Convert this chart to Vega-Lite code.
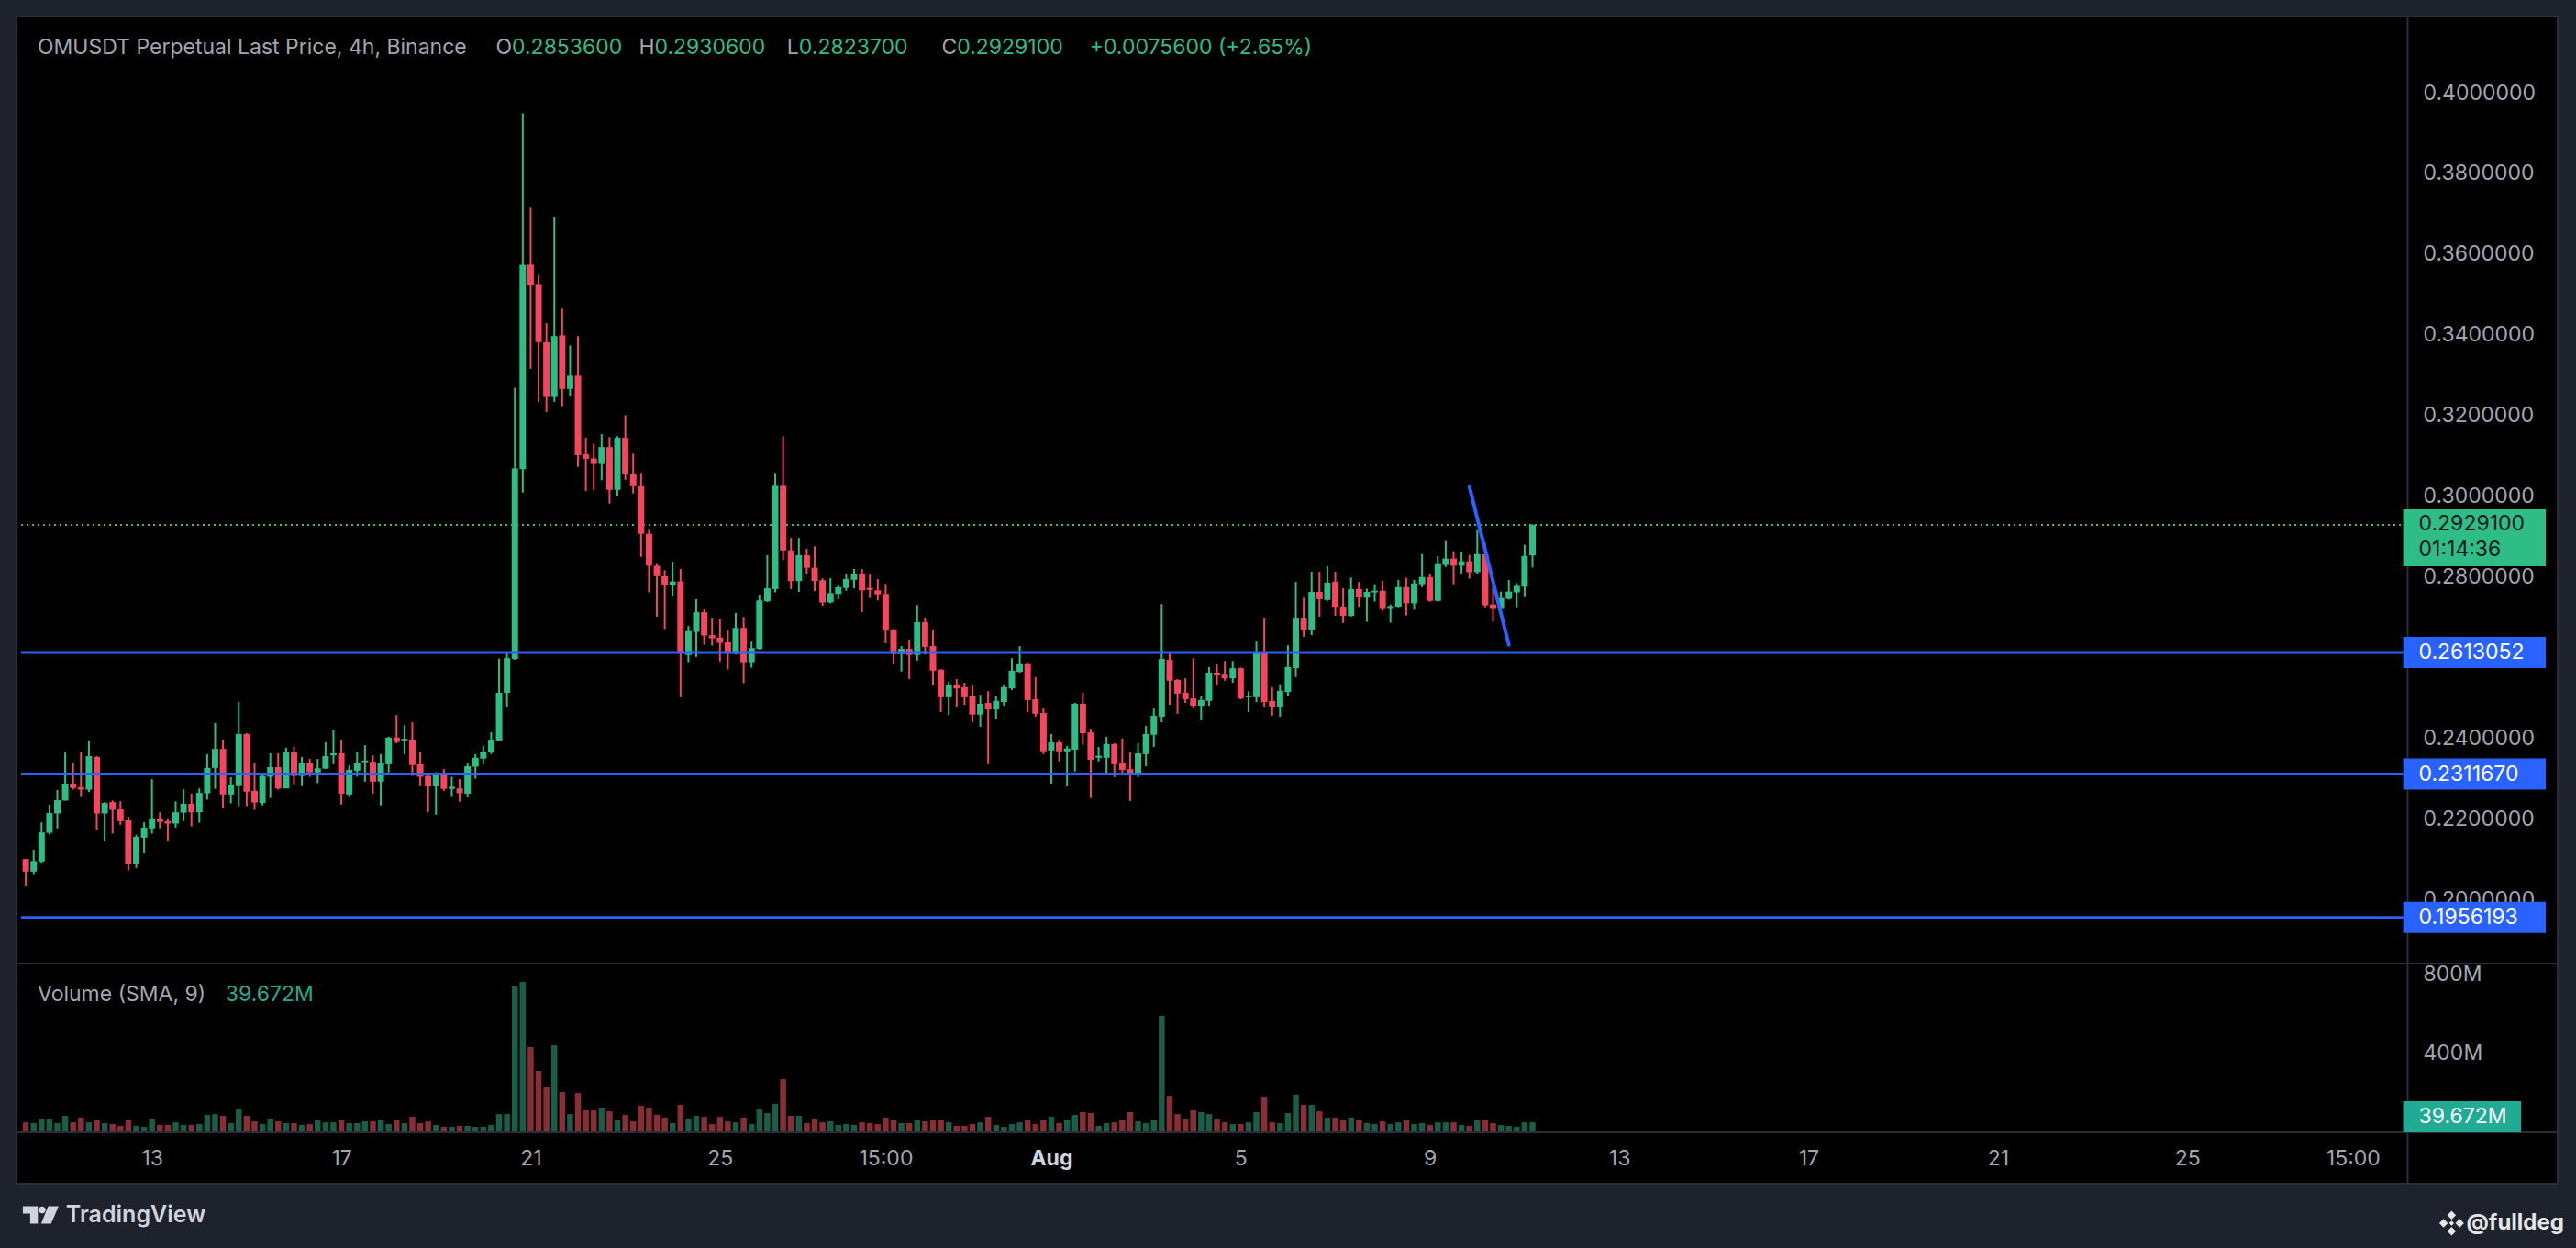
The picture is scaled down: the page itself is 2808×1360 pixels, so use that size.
{
  "$schema": "https://vega.github.io/schema/vega-lite/v6.json",
  "description": "OMUSDT perpetual 4h candles with volume, TradingView dark style",
  "width": 2770,
  "height": 1272,
  "autosize": {"type": "none"},
  "padding": {"left": 18, "top": 18, "right": 20, "bottom": 70},
  "background": "#1e222d",
  "config": {
    "view": {"fill": "#000000", "stroke": "#2a2e39", "strokeWidth": 2},
    "text": {"font": "Inter", "fontSize": 23, "baseline": "middle", "align": "left"},
    "axis": {"labelFont": "Inter", "labelFontSize": 23, "labelColor": "#a3a6af", "grid": false, "ticks": false, "domain": false}
  },
  "datasets": {
    "candles": [
      {"t":"2025-07-10T08:00Z","o":0.2101,"h":0.2101,"l":0.2035,"c":0.2070,"v":46},
      {"t":"2025-07-10T12:00Z","o":0.2070,"h":0.2124,"l":0.2064,"c":0.2096,"v":42},
      {"t":"2025-07-10T16:00Z","o":0.2095,"h":0.2192,"l":0.2092,"c":0.2167,"v":65},
      {"t":"2025-07-10T20:00Z","o":0.2166,"h":0.2236,"l":0.2162,"c":0.2215,"v":65},
      {"t":"2025-07-11T00:00Z","o":0.2214,"h":0.2272,"l":0.2177,"c":0.2247,"v":42},
      {"t":"2025-07-11T04:00Z","o":0.2246,"h":0.2365,"l":0.2246,"c":0.2288,"v":79},
      {"t":"2025-07-11T08:00Z","o":0.2288,"h":0.2340,"l":0.2273,"c":0.2277,"v":46},
      {"t":"2025-07-11T12:00Z","o":0.2279,"h":0.2365,"l":0.2257,"c":0.2273,"v":70},
      {"t":"2025-07-11T16:00Z","o":0.2273,"h":0.2395,"l":0.2267,"c":0.2356,"v":46},
      {"t":"2025-07-11T20:00Z","o":0.2354,"h":0.2356,"l":0.2174,"c":0.2214,"v":56},
      {"t":"2025-07-12T00:00Z","o":0.2214,"h":0.2242,"l":0.2145,"c":0.2240,"v":42},
      {"t":"2025-07-12T04:00Z","o":0.2242,"h":0.2246,"l":0.2164,"c":0.2223,"v":37},
      {"t":"2025-07-12T08:00Z","o":0.2224,"h":0.2244,"l":0.2186,"c":0.2195,"v":28},
      {"t":"2025-07-12T12:00Z","o":0.2197,"h":0.2206,"l":0.2073,"c":0.2089,"v":60},
      {"t":"2025-07-12T16:00Z","o":0.2089,"h":0.2161,"l":0.2079,"c":0.2156,"v":28},
      {"t":"2025-07-12T20:00Z","o":0.2154,"h":0.2192,"l":0.2115,"c":0.2179,"v":23},
      {"t":"2025-07-13T00:00Z","o":0.2177,"h":0.2299,"l":0.2164,"c":0.2202,"v":65},
      {"t":"2025-07-13T04:00Z","o":0.2202,"h":0.2217,"l":0.2177,"c":0.2193,"v":33},
      {"t":"2025-07-13T08:00Z","o":0.2195,"h":0.2202,"l":0.2145,"c":0.2189,"v":33},
      {"t":"2025-07-13T12:00Z","o":0.2189,"h":0.2244,"l":0.2179,"c":0.2217,"v":46},
      {"t":"2025-07-13T16:00Z","o":0.2216,"h":0.2274,"l":0.2195,"c":0.2238,"v":33},
      {"t":"2025-07-13T20:00Z","o":0.2238,"h":0.2263,"l":0.2182,"c":0.2217,"v":33},
      {"t":"2025-07-14T00:00Z","o":0.2217,"h":0.2276,"l":0.2191,"c":0.2265,"v":37},
      {"t":"2025-07-14T04:00Z","o":0.2264,"h":0.2361,"l":0.2248,"c":0.2327,"v":84},
      {"t":"2025-07-14T08:00Z","o":0.2327,"h":0.2438,"l":0.2275,"c":0.2374,"v":88},
      {"t":"2025-07-14T12:00Z","o":0.2374,"h":0.2397,"l":0.2227,"c":0.2261,"v":79},
      {"t":"2025-07-14T16:00Z","o":0.2261,"h":0.2304,"l":0.2239,"c":0.2286,"v":42},
      {"t":"2025-07-14T20:00Z","o":0.2284,"h":0.2490,"l":0.2232,"c":0.2411,"v":116},
      {"t":"2025-07-15T00:00Z","o":0.2411,"h":0.2413,"l":0.2232,"c":0.2268,"v":79},
      {"t":"2025-07-15T04:00Z","o":0.2270,"h":0.2338,"l":0.2223,"c":0.2241,"v":51},
      {"t":"2025-07-15T08:00Z","o":0.2240,"h":0.2309,"l":0.2234,"c":0.2307,"v":37},
      {"t":"2025-07-15T12:00Z","o":0.2305,"h":0.2363,"l":0.2252,"c":0.2329,"v":65},
      {"t":"2025-07-15T16:00Z","o":0.2329,"h":0.2363,"l":0.2273,"c":0.2276,"v":51},
      {"t":"2025-07-15T20:00Z","o":0.2276,"h":0.2377,"l":0.2276,"c":0.2365,"v":42},
      {"t":"2025-07-16T00:00Z","o":0.2365,"h":0.2379,"l":0.2286,"c":0.2307,"v":42},
      {"t":"2025-07-16T04:00Z","o":0.2307,"h":0.2354,"l":0.2284,"c":0.2338,"v":33},
      {"t":"2025-07-16T08:00Z","o":0.2338,"h":0.2349,"l":0.2305,"c":0.2316,"v":37},
      {"t":"2025-07-16T12:00Z","o":0.2316,"h":0.2349,"l":0.2289,"c":0.2326,"v":56},
      {"t":"2025-07-16T16:00Z","o":0.2325,"h":0.2390,"l":0.2325,"c":0.2356,"v":46},
      {"t":"2025-07-16T20:00Z","o":0.2358,"h":0.2420,"l":0.2336,"c":0.2363,"v":46},
      {"t":"2025-07-17T00:00Z","o":0.2363,"h":0.2397,"l":0.2236,"c":0.2263,"v":56},
      {"t":"2025-07-17T04:00Z","o":0.2261,"h":0.2333,"l":0.2257,"c":0.2322,"v":42},
      {"t":"2025-07-17T08:00Z","o":0.2320,"h":0.2367,"l":0.2305,"c":0.2340,"v":42},
      {"t":"2025-07-17T12:00Z","o":0.2341,"h":0.2383,"l":0.2293,"c":0.2345,"v":51},
      {"t":"2025-07-17T16:00Z","o":0.2342,"h":0.2358,"l":0.2263,"c":0.2293,"v":51},
      {"t":"2025-07-17T20:00Z","o":0.2293,"h":0.2361,"l":0.2234,"c":0.2338,"v":60},
      {"t":"2025-07-18T00:00Z","o":0.2336,"h":0.2404,"l":0.2316,"c":0.2402,"v":37},
      {"t":"2025-07-18T04:00Z","o":0.2402,"h":0.2458,"l":0.2388,"c":0.2391,"v":56},
      {"t":"2025-07-18T08:00Z","o":0.2395,"h":0.2433,"l":0.2361,"c":0.2399,"v":42},
      {"t":"2025-07-18T12:00Z","o":0.2397,"h":0.2440,"l":0.2307,"c":0.2334,"v":74},
      {"t":"2025-07-18T16:00Z","o":0.2336,"h":0.2367,"l":0.2284,"c":0.2305,"v":42},
      {"t":"2025-07-18T20:00Z","o":0.2307,"h":0.2311,"l":0.2217,"c":0.2282,"v":51},
      {"t":"2025-07-19T00:00Z","o":0.2282,"h":0.2316,"l":0.2211,"c":0.2311,"v":33},
      {"t":"2025-07-19T04:00Z","o":0.2311,"h":0.2324,"l":0.2270,"c":0.2275,"v":23},
      {"t":"2025-07-19T08:00Z","o":0.2275,"h":0.2305,"l":0.2257,"c":0.2280,"v":23},
      {"t":"2025-07-19T12:00Z","o":0.2276,"h":0.2299,"l":0.2243,"c":0.2264,"v":28},
      {"t":"2025-07-19T16:00Z","o":0.2263,"h":0.2338,"l":0.2254,"c":0.2331,"v":28},
      {"t":"2025-07-19T20:00Z","o":0.2330,"h":0.2361,"l":0.2300,"c":0.2352,"v":23},
      {"t":"2025-07-20T00:00Z","o":0.2350,"h":0.2381,"l":0.2336,"c":0.2367,"v":23},
      {"t":"2025-07-20T04:00Z","o":0.2366,"h":0.2415,"l":0.2361,"c":0.2397,"v":33},
      {"t":"2025-07-20T08:00Z","o":0.2395,"h":0.2598,"l":0.2393,"c":0.2513,"v":88},
      {"t":"2025-07-20T12:00Z","o":0.2513,"h":0.2613,"l":0.2479,"c":0.2599,"v":88},
      {"t":"2025-07-20T16:00Z","o":0.2597,"h":0.3269,"l":0.2595,"c":0.3069,"v":735},
      {"t":"2025-07-20T20:00Z","o":0.3067,"h":0.3949,"l":0.3009,"c":0.3574,"v":758},
      {"t":"2025-07-21T00:00Z","o":0.3574,"h":0.3715,"l":0.3316,"c":0.3522,"v":428},
      {"t":"2025-07-21T04:00Z","o":0.3524,"h":0.3549,"l":0.3234,"c":0.3382,"v":307},
      {"t":"2025-07-21T08:00Z","o":0.3382,"h":0.3429,"l":0.3209,"c":0.3246,"v":223},
      {"t":"2025-07-21T12:00Z","o":0.3246,"h":0.3692,"l":0.3234,"c":0.3397,"v":437},
      {"t":"2025-07-21T16:00Z","o":0.3399,"h":0.3465,"l":0.3223,"c":0.3266,"v":200},
      {"t":"2025-07-21T20:00Z","o":0.3266,"h":0.3374,"l":0.3247,"c":0.3299,"v":88},
      {"t":"2025-07-22T00:00Z","o":0.3299,"h":0.3397,"l":0.3073,"c":0.3102,"v":195},
      {"t":"2025-07-22T04:00Z","o":0.3104,"h":0.3145,"l":0.3013,"c":0.3093,"v":107},
      {"t":"2025-07-22T08:00Z","o":0.3094,"h":0.3131,"l":0.3015,"c":0.3080,"v":107},
      {"t":"2025-07-22T12:00Z","o":0.3080,"h":0.3154,"l":0.3040,"c":0.3122,"v":121},
      {"t":"2025-07-22T16:00Z","o":0.3122,"h":0.3147,"l":0.2982,"c":0.3016,"v":102},
      {"t":"2025-07-22T20:00Z","o":0.3016,"h":0.3149,"l":0.3000,"c":0.3145,"v":56},
      {"t":"2025-07-23T00:00Z","o":0.3145,"h":0.3201,"l":0.3041,"c":0.3056,"v":84},
      {"t":"2025-07-23T04:00Z","o":0.3056,"h":0.3106,"l":0.3007,"c":0.3025,"v":51},
      {"t":"2025-07-23T08:00Z","o":0.3025,"h":0.3058,"l":0.2850,"c":0.2907,"v":130},
      {"t":"2025-07-23T12:00Z","o":0.2907,"h":0.2917,"l":0.2762,"c":0.2828,"v":121},
      {"t":"2025-07-23T16:00Z","o":0.2828,"h":0.2832,"l":0.2702,"c":0.2802,"v":84},
      {"t":"2025-07-23T20:00Z","o":0.2802,"h":0.2817,"l":0.2671,"c":0.2780,"v":70},
      {"t":"2025-07-24T00:00Z","o":0.2780,"h":0.2838,"l":0.2752,"c":0.2789,"v":42},
      {"t":"2025-07-24T04:00Z","o":0.2789,"h":0.2820,"l":0.2502,"c":0.2610,"v":135},
      {"t":"2025-07-24T08:00Z","o":0.2607,"h":0.2679,"l":0.2589,"c":0.2666,"v":65},
      {"t":"2025-07-24T12:00Z","o":0.2664,"h":0.2745,"l":0.2602,"c":0.2713,"v":79},
      {"t":"2025-07-24T16:00Z","o":0.2713,"h":0.2720,"l":0.2632,"c":0.2655,"v":74},
      {"t":"2025-07-24T20:00Z","o":0.2656,"h":0.2697,"l":0.2630,"c":0.2648,"v":37},
      {"t":"2025-07-25T00:00Z","o":0.2650,"h":0.2695,"l":0.2591,"c":0.2637,"v":74},
      {"t":"2025-07-25T04:00Z","o":0.2638,"h":0.2667,"l":0.2571,"c":0.2610,"v":51},
      {"t":"2025-07-25T08:00Z","o":0.2610,"h":0.2711,"l":0.2608,"c":0.2674,"v":46},
      {"t":"2025-07-25T12:00Z","o":0.2674,"h":0.2701,"l":0.2537,"c":0.2589,"v":70},
      {"t":"2025-07-25T16:00Z","o":0.2589,"h":0.2640,"l":0.2575,"c":0.2624,"v":37},
      {"t":"2025-07-25T20:00Z","o":0.2622,"h":0.2756,"l":0.2620,"c":0.2742,"v":112},
      {"t":"2025-07-26T00:00Z","o":0.2740,"h":0.2854,"l":0.2738,"c":0.2772,"v":93},
      {"t":"2025-07-26T04:00Z","o":0.2770,"h":0.3058,"l":0.2762,"c":0.3026,"v":140},
      {"t":"2025-07-26T08:00Z","o":0.3026,"h":0.3149,"l":0.2842,"c":0.2866,"v":265},
      {"t":"2025-07-26T12:00Z","o":0.2866,"h":0.2897,"l":0.2770,"c":0.2790,"v":79},
      {"t":"2025-07-26T16:00Z","o":0.2790,"h":0.2897,"l":0.2763,"c":0.2854,"v":79},
      {"t":"2025-07-26T20:00Z","o":0.2854,"h":0.2870,"l":0.2806,"c":0.2823,"v":42},
      {"t":"2025-07-27T00:00Z","o":0.2823,"h":0.2876,"l":0.2765,"c":0.2790,"v":65},
      {"t":"2025-07-27T04:00Z","o":0.2792,"h":0.2797,"l":0.2729,"c":0.2737,"v":46},
      {"t":"2025-07-27T08:00Z","o":0.2737,"h":0.2797,"l":0.2735,"c":0.2760,"v":51},
      {"t":"2025-07-27T12:00Z","o":0.2758,"h":0.2779,"l":0.2745,"c":0.2775,"v":33},
      {"t":"2025-07-27T16:00Z","o":0.2773,"h":0.2808,"l":0.2766,"c":0.2795,"v":37},
      {"t":"2025-07-27T20:00Z","o":0.2793,"h":0.2820,"l":0.2772,"c":0.2808,"v":33},
      {"t":"2025-07-28T00:00Z","o":0.2808,"h":0.2820,"l":0.2713,"c":0.2767,"v":46},
      {"t":"2025-07-28T04:00Z","o":0.2773,"h":0.2806,"l":0.2748,"c":0.2768,"v":42},
      {"t":"2025-07-28T08:00Z","o":0.2767,"h":0.2795,"l":0.2742,"c":0.2757,"v":37},
      {"t":"2025-07-28T12:00Z","o":0.2758,"h":0.2783,"l":0.2636,"c":0.2667,"v":70},
      {"t":"2025-07-28T16:00Z","o":0.2669,"h":0.2672,"l":0.2583,"c":0.2609,"v":56},
      {"t":"2025-07-28T20:00Z","o":0.2609,"h":0.2629,"l":0.2566,"c":0.2622,"v":42},
      {"t":"2025-07-29T00:00Z","o":0.2622,"h":0.2645,"l":0.2547,"c":0.2607,"v":42},
      {"t":"2025-07-29T04:00Z","o":0.2607,"h":0.2731,"l":0.2593,"c":0.2688,"v":56},
      {"t":"2025-07-29T08:00Z","o":0.2688,"h":0.2699,"l":0.2608,"c":0.2627,"v":51},
      {"t":"2025-07-29T12:00Z","o":0.2629,"h":0.2668,"l":0.2531,"c":0.2568,"v":56},
      {"t":"2025-07-29T16:00Z","o":0.2570,"h":0.2572,"l":0.2465,"c":0.2502,"v":60},
      {"t":"2025-07-29T20:00Z","o":0.2502,"h":0.2540,"l":0.2458,"c":0.2533,"v":46},
      {"t":"2025-07-30T00:00Z","o":0.2533,"h":0.2547,"l":0.2479,"c":0.2524,"v":28},
      {"t":"2025-07-30T04:00Z","o":0.2527,"h":0.2538,"l":0.2483,"c":0.2502,"v":28},
      {"t":"2025-07-30T08:00Z","o":0.2504,"h":0.2531,"l":0.2440,"c":0.2459,"v":37},
      {"t":"2025-07-30T12:00Z","o":0.2459,"h":0.2508,"l":0.2429,"c":0.2486,"v":46},
      {"t":"2025-07-30T16:00Z","o":0.2488,"h":0.2517,"l":0.2336,"c":0.2472,"v":74},
      {"t":"2025-07-30T20:00Z","o":0.2472,"h":0.2504,"l":0.2447,"c":0.2493,"v":33},
      {"t":"2025-07-31T00:00Z","o":0.2490,"h":0.2534,"l":0.2481,"c":0.2527,"v":23},
      {"t":"2025-07-31T04:00Z","o":0.2524,"h":0.2599,"l":0.2520,"c":0.2568,"v":37},
      {"t":"2025-07-31T08:00Z","o":0.2565,"h":0.2629,"l":0.2563,"c":0.2584,"v":46},
      {"t":"2025-07-31T12:00Z","o":0.2584,"h":0.2588,"l":0.2465,"c":0.2495,"v":56},
      {"t":"2025-07-31T16:00Z","o":0.2497,"h":0.2552,"l":0.2454,"c":0.2461,"v":37},
      {"t":"2025-07-31T20:00Z","o":0.2463,"h":0.2474,"l":0.2361,"c":0.2368,"v":56},
      {"t":"2025-08-01T00:00Z","o":0.2370,"h":0.2411,"l":0.2288,"c":0.2390,"v":74},
      {"t":"2025-08-01T04:00Z","o":0.2390,"h":0.2397,"l":0.2343,"c":0.2368,"v":42},
      {"t":"2025-08-01T08:00Z","o":0.2368,"h":0.2381,"l":0.2281,"c":0.2375,"v":60},
      {"t":"2025-08-01T12:00Z","o":0.2372,"h":0.2488,"l":0.2318,"c":0.2486,"v":84},
      {"t":"2025-08-01T16:00Z","o":0.2486,"h":0.2513,"l":0.2384,"c":0.2413,"v":98},
      {"t":"2025-08-01T20:00Z","o":0.2415,"h":0.2424,"l":0.2252,"c":0.2347,"v":93},
      {"t":"2025-08-02T00:00Z","o":0.2352,"h":0.2379,"l":0.2343,"c":0.2357,"v":28},
      {"t":"2025-08-02T04:00Z","o":0.2352,"h":0.2404,"l":0.2309,"c":0.2386,"v":42},
      {"t":"2025-08-02T08:00Z","o":0.2386,"h":0.2388,"l":0.2304,"c":0.2336,"v":46},
      {"t":"2025-08-02T12:00Z","o":0.2338,"h":0.2400,"l":0.2311,"c":0.2322,"v":56},
      {"t":"2025-08-02T16:00Z","o":0.2324,"h":0.2365,"l":0.2245,"c":0.2311,"v":98},
      {"t":"2025-08-02T20:00Z","o":0.2311,"h":0.2388,"l":0.2304,"c":0.2363,"v":51},
      {"t":"2025-08-03T00:00Z","o":0.2361,"h":0.2431,"l":0.2331,"c":0.2411,"v":42},
      {"t":"2025-08-03T04:00Z","o":0.2409,"h":0.2474,"l":0.2379,"c":0.2456,"v":60},
      {"t":"2025-08-03T08:00Z","o":0.2454,"h":0.2733,"l":0.2440,"c":0.2597,"v":586},
      {"t":"2025-08-03T12:00Z","o":0.2595,"h":0.2613,"l":0.2483,"c":0.2543,"v":181},
      {"t":"2025-08-03T16:00Z","o":0.2545,"h":0.2547,"l":0.2461,"c":0.2511,"v":88},
      {"t":"2025-08-03T20:00Z","o":0.2513,"h":0.2549,"l":0.2488,"c":0.2497,"v":65},
      {"t":"2025-08-04T00:00Z","o":0.2499,"h":0.2599,"l":0.2477,"c":0.2481,"v":107},
      {"t":"2025-08-04T04:00Z","o":0.2481,"h":0.2506,"l":0.2445,"c":0.2495,"v":98},
      {"t":"2025-08-04T08:00Z","o":0.2493,"h":0.2577,"l":0.2481,"c":0.2563,"v":88},
      {"t":"2025-08-04T12:00Z","o":0.2563,"h":0.2583,"l":0.2531,"c":0.2556,"v":65},
      {"t":"2025-08-04T16:00Z","o":0.2558,"h":0.2592,"l":0.2543,"c":0.2549,"v":46},
      {"t":"2025-08-04T20:00Z","o":0.2549,"h":0.2592,"l":0.2538,"c":0.2574,"v":37},
      {"t":"2025-08-05T00:00Z","o":0.2574,"h":0.2576,"l":0.2497,"c":0.2499,"v":37},
      {"t":"2025-08-05T04:00Z","o":0.2502,"h":0.2517,"l":0.2465,"c":0.2506,"v":46},
      {"t":"2025-08-05T08:00Z","o":0.2502,"h":0.2640,"l":0.2490,"c":0.2613,"v":98},
      {"t":"2025-08-05T12:00Z","o":0.2615,"h":0.2697,"l":0.2479,"c":0.2490,"v":177},
      {"t":"2025-08-05T16:00Z","o":0.2493,"h":0.2527,"l":0.2456,"c":0.2479,"v":46},
      {"t":"2025-08-05T20:00Z","o":0.2479,"h":0.2534,"l":0.2454,"c":0.2518,"v":42},
      {"t":"2025-08-06T00:00Z","o":0.2515,"h":0.2631,"l":0.2504,"c":0.2577,"v":93},
      {"t":"2025-08-06T04:00Z","o":0.2574,"h":0.2788,"l":0.2552,"c":0.2697,"v":186},
      {"t":"2025-08-06T08:00Z","o":0.2697,"h":0.2749,"l":0.2652,"c":0.2670,"v":135},
      {"t":"2025-08-06T12:00Z","o":0.2670,"h":0.2813,"l":0.2656,"c":0.2763,"v":135},
      {"t":"2025-08-06T16:00Z","o":0.2763,"h":0.2813,"l":0.2702,"c":0.2745,"v":102},
      {"t":"2025-08-06T20:00Z","o":0.2743,"h":0.2827,"l":0.2741,"c":0.2786,"v":70},
      {"t":"2025-08-07T00:00Z","o":0.2788,"h":0.2813,"l":0.2704,"c":0.2724,"v":70},
      {"t":"2025-08-07T04:00Z","o":0.2727,"h":0.2772,"l":0.2686,"c":0.2704,"v":60},
      {"t":"2025-08-07T08:00Z","o":0.2704,"h":0.2799,"l":0.2702,"c":0.2770,"v":70},
      {"t":"2025-08-07T12:00Z","o":0.2770,"h":0.2788,"l":0.2724,"c":0.2749,"v":56},
      {"t":"2025-08-07T16:00Z","o":0.2749,"h":0.2771,"l":0.2689,"c":0.2763,"v":42},
      {"t":"2025-08-07T20:00Z","o":0.2762,"h":0.2782,"l":0.2739,"c":0.2766,"v":37},
      {"t":"2025-08-08T00:00Z","o":0.2766,"h":0.2791,"l":0.2716,"c":0.2721,"v":51},
      {"t":"2025-08-08T04:00Z","o":0.2721,"h":0.2732,"l":0.2687,"c":0.2728,"v":37},
      {"t":"2025-08-08T08:00Z","o":0.2726,"h":0.2793,"l":0.2723,"c":0.2775,"v":46},
      {"t":"2025-08-08T12:00Z","o":0.2775,"h":0.2798,"l":0.2705,"c":0.2735,"v":56},
      {"t":"2025-08-08T16:00Z","o":0.2735,"h":0.2793,"l":0.2719,"c":0.2784,"v":37},
      {"t":"2025-08-08T20:00Z","o":0.2782,"h":0.2857,"l":0.2775,"c":0.2800,"v":42},
      {"t":"2025-08-09T00:00Z","o":0.2800,"h":0.2807,"l":0.2739,"c":0.2741,"v":33},
      {"t":"2025-08-09T04:00Z","o":0.2741,"h":0.2852,"l":0.2739,"c":0.2832,"v":46},
      {"t":"2025-08-09T08:00Z","o":0.2830,"h":0.2889,"l":0.2825,"c":0.2846,"v":46},
      {"t":"2025-08-09T12:00Z","o":0.2846,"h":0.2864,"l":0.2782,"c":0.2828,"v":46},
      {"t":"2025-08-09T16:00Z","o":0.2828,"h":0.2861,"l":0.2809,"c":0.2839,"v":33},
      {"t":"2025-08-09T20:00Z","o":0.2839,"h":0.2855,"l":0.2796,"c":0.2812,"v":28},
      {"t":"2025-08-10T00:00Z","o":0.2812,"h":0.2916,"l":0.2807,"c":0.2857,"v":56},
      {"t":"2025-08-10T04:00Z","o":0.2857,"h":0.2884,"l":0.2723,"c":0.2730,"v":60},
      {"t":"2025-08-10T08:00Z","o":0.2732,"h":0.2778,"l":0.2689,"c":0.2721,"v":42},
      {"t":"2025-08-10T12:00Z","o":0.2721,"h":0.2764,"l":0.2703,"c":0.2748,"v":33},
      {"t":"2025-08-10T16:00Z","o":0.2746,"h":0.2793,"l":0.2744,"c":0.2764,"v":28},
      {"t":"2025-08-10T20:00Z","o":0.2762,"h":0.2785,"l":0.2723,"c":0.2778,"v":23},
      {"t":"2025-08-11T00:00Z","o":0.2776,"h":0.2880,"l":0.2750,"c":0.2852,"v":46},
      {"t":"2025-08-11T04:00Z","o":0.28536,"h":0.29306,"l":0.28237,"c":0.29291,"v":46}
    ]
  },
  "layer": [
    {
      "layer": [
        {
          "data": {"values": [{}]},
          "mark": {"type": "rule", "color": "#2a2e39", "strokeWidth": 2},
          "encoding": {"y": {"datum": 0.18422, "type": "quantitative"}}
        },
        {
          "data": {"values": [{}]},
          "mark": {"type": "rule", "color": "#2a2e39", "strokeWidth": 2},
          "encoding": {"y": {"datum": 0.14239, "type": "quantitative"}}
        },
        {
          "data": {"values": [{}]},
          "mark": {"type": "rule", "color": "#2ebd85", "strokeWidth": 2, "strokeDash": [2, 4]},
          "encoding": {
            "x": {"datum": {"year": 2025, "month": 7, "date": 10, "hours": 5, "minutes": 37, "seconds": 20, "utc": true}, "type": "temporal"},
            "x2": {"datum": {"year": 2025, "month": 8, "date": 29, "hours": 13, "minutes": 30, "utc": true}},
            "y": {"datum": 0.29291, "type": "quantitative"}
          }
        },
        {
          "data": {"name": "candles"},
          "mark": {"type": "rule", "strokeWidth": 2},
          "encoding": {
            "x": {
              "field": "t", "type": "temporal",
              "scale": {"type": "utc", "nice": false, "domain": [
                {"year": 2025, "month": 7, "date": 10, "hours": 5, "minutes": 37, "seconds": 20, "utc": true},
                {"year": 2025, "month": 9, "date": 1, "hours": 17, "minutes": 30, "seconds": 44, "utc": true}
              ]},
              "axis": {
                "orient": "bottom", "offset": -56, "title": null, "domain": false, "labelPadding": 17,
                "labelOverlap": false, "labelFlush": false,
                "values": [
                  {"year": 2025, "month": 7, "date": 13, "utc": true},
                  {"year": 2025, "month": 7, "date": 17, "utc": true},
                  {"year": 2025, "month": 7, "date": 21, "utc": true},
                  {"year": 2025, "month": 7, "date": 25, "utc": true},
                  {"year": 2025, "month": 7, "date": 28, "hours": 12, "utc": true},
                  {"year": 2025, "month": 8, "date": 1, "utc": true},
                  {"year": 2025, "month": 8, "date": 5, "utc": true},
                  {"year": 2025, "month": 8, "date": 9, "utc": true},
                  {"year": 2025, "month": 8, "date": 13, "utc": true},
                  {"year": 2025, "month": 8, "date": 17, "utc": true},
                  {"year": 2025, "month": 8, "date": 21, "utc": true},
                  {"year": 2025, "month": 8, "date": 25, "utc": true},
                  {"year": 2025, "month": 8, "date": 28, "hours": 12, "utc": true}
                ],
                "labelExpr": "utchours(datum.value) == 12 ? '15:00' : (utcdate(datum.value) == 1 ? 'Aug' : '' + utcdate(datum.value))",
                "labelColor": {"condition": {"test": "utcdate(datum.value) == 1 && utchours(datum.value) == 0", "value": "#d1d4dc"}, "value": "#a3a6af"},
                "labelFontWeight": {"condition": {"test": "utcdate(datum.value) == 1 && utchours(datum.value) == 0", "value": "bold"}, "value": "normal"}
              }
            },
            "y": {
              "field": "l", "type": "quantitative",
              "scale": {"domain": [0.12965, 0.41888], "nice": false, "zero": false},
              "axis": {
                "orient": "right", "offset": -164, "title": null, "format": ".7f", "labelPadding": 17,
                "labelOverlap": false, "domain": true, "domainColor": "#2a2e39", "domainWidth": 2,
                "values": [0.2, 0.22, 0.24, 0.28, 0.3, 0.32, 0.34, 0.36, 0.38, 0.4]
              }
            },
            "y2": {"field": "h"},
            "color": {"condition": {"test": "datum.c >= datum.o", "value": "#2ebd85"}, "value": "#f6465d"}
          }
        },
        {
          "data": {"name": "candles"},
          "mark": {"type": "bar", "width": 7},
          "encoding": {
            "x": {"field": "t", "type": "temporal"},
            "y": {"field": "o", "type": "quantitative"},
            "y2": {"field": "c"},
            "color": {"condition": {"test": "datum.c >= datum.o", "value": "#2ebd85"}, "value": "#f6465d"}
          }
        },
        {
          "data": {"values": [{"p": 0.2613052}, {"p": 0.231167}, {"p": 0.1956193}]},
          "layer": [
            {
              "mark": {"type": "rule", "color": "#2962ff", "strokeWidth": 3},
              "encoding": {
                "x": {"datum": {"year": 2025, "month": 7, "date": 10, "hours": 5, "minutes": 37, "seconds": 20, "utc": true}, "type": "temporal"},
                "x2": {"datum": {"year": 2025, "month": 8, "date": 29, "hours": 13, "minutes": 30, "utc": true}},
                "y": {"field": "p", "type": "quantitative"}
              }
            },
            {
              "mark": {"type": "rule", "color": "#2962ff", "strokeWidth": 34},
              "encoding": {
                "x": {"datum": {"year": 2025, "month": 8, "date": 29, "hours": 13, "minutes": 30, "utc": true}, "type": "temporal"},
                "x2": {"datum": {"year": 2025, "month": 9, "date": 1, "hours": 13, "minutes": 48, "utc": true}},
                "y": {"field": "p", "type": "quantitative"}
              }
            },
            {
              "mark": {"type": "text", "color": "#ffffff"},
              "encoding": {
                "x": {"datum": {"year": 2025, "month": 8, "date": 29, "hours": 21, "minutes": 23, "utc": true}, "type": "temporal"},
                "y": {"field": "p", "type": "quantitative"},
                "text": {"field": "p", "type": "quantitative", "format": ".7f"}
              }
            }
          ]
        },
        {
          "data": {"values": [{}]},
          "mark": {"type": "rule", "color": "#2962ff", "strokeWidth": 4, "strokeCap": "round"},
          "encoding": {
            "x": {"datum": {"year": 2025, "month": 8, "date": 9, "hours": 20, "utc": true}, "type": "temporal"},
            "x2": {"datum": {"year": 2025, "month": 8, "date": 10, "hours": 16, "utc": true}},
            "y": {"datum": 0.3024, "type": "quantitative"},
            "y2": {"datum": 0.2632}
          }
        },
        {
          "data": {"values": [{}]},
          "mark": {"type": "rule", "color": "#2ebd85", "strokeWidth": 62},
          "encoding": {
            "x": {"datum": {"year": 2025, "month": 8, "date": 29, "hours": 13, "minutes": 30, "utc": true}, "type": "temporal"},
            "x2": {"datum": {"year": 2025, "month": 9, "date": 1, "hours": 13, "minutes": 48, "utc": true}},
            "y": {"datum": 0.28972, "type": "quantitative"}
          }
        },
        {
          "data": {"values": [{}]},
          "mark": {"type": "text", "color": "#131722"},
          "encoding": {
            "x": {"datum": {"year": 2025, "month": 8, "date": 29, "hours": 21, "minutes": 23, "utc": true}, "type": "temporal"},
            "y": {"datum": 0.29314, "type": "quantitative"},
            "text": {"value": "0.2929100"}
          }
        },
        {
          "data": {"values": [{}]},
          "mark": {"type": "text", "color": "#131722"},
          "encoding": {
            "x": {"datum": {"year": 2025, "month": 8, "date": 29, "hours": 21, "minutes": 23, "utc": true}, "type": "temporal"},
            "y": {"datum": 0.28677, "type": "quantitative"},
            "text": {"value": "01:14:36"}
          }
        },
        {
          "data": {"values": [{}]},
          "mark": {"type": "text", "color": "#a3a6af"},
          "encoding": {
            "x": {"datum": {"year": 2025, "month": 7, "date": 10, "hours": 13, "minutes": 58, "utc": true}, "type": "temporal"},
            "y": {"datum": 0.41115, "type": "quantitative"},
            "text": {"value": "OMUSDT Perpetual Last Price, 4h, Binance"}
          }
        },
        {
          "data": {"values": [{}]},
          "mark": {"type": "text", "color": "#a3a6af", "align": "right"},
          "encoding": {
            "x": {"datum": {"year": 2025, "month": 7, "date": 20, "hours": 14, "minutes": 31, "utc": true}, "type": "temporal"},
            "y": {"datum": 0.41115, "type": "quantitative"},
            "text": {"value": "O"}
          }
        },
        {
          "data": {"values": [{}]},
          "mark": {"type": "text", "color": "#2ebd85"},
          "encoding": {
            "x": {"datum": {"year": 2025, "month": 7, "date": 20, "hours": 14, "minutes": 31, "utc": true}, "type": "temporal"},
            "y": {"datum": 0.41115, "type": "quantitative"},
            "text": {"value": "0.2853600"}
          }
        },
        {
          "data": {"values": [{}]},
          "mark": {"type": "text", "color": "#a3a6af", "align": "right"},
          "encoding": {
            "x": {"datum": {"year": 2025, "month": 7, "date": 23, "hours": 14, "minutes": 49, "utc": true}, "type": "temporal"},
            "y": {"datum": 0.41115, "type": "quantitative"},
            "text": {"value": "H"}
          }
        },
        {
          "data": {"values": [{}]},
          "mark": {"type": "text", "color": "#2ebd85"},
          "encoding": {
            "x": {"datum": {"year": 2025, "month": 7, "date": 23, "hours": 14, "minutes": 49, "utc": true}, "type": "temporal"},
            "y": {"datum": 0.41115, "type": "quantitative"},
            "text": {"value": "0.2930600"}
          }
        },
        {
          "data": {"values": [{}]},
          "mark": {"type": "text", "color": "#a3a6af", "align": "right"},
          "encoding": {
            "x": {"datum": {"year": 2025, "month": 7, "date": 26, "hours": 16, "minutes": 1, "utc": true}, "type": "temporal"},
            "y": {"datum": 0.41115, "type": "quantitative"},
            "text": {"value": "L"}
          }
        },
        {
          "data": {"values": [{}]},
          "mark": {"type": "text", "color": "#2ebd85"},
          "encoding": {
            "x": {"datum": {"year": 2025, "month": 7, "date": 26, "hours": 16, "minutes": 1, "utc": true}, "type": "temporal"},
            "y": {"datum": 0.41115, "type": "quantitative"},
            "text": {"value": "0.2823700"}
          }
        },
        {
          "data": {"values": [{}]},
          "mark": {"type": "text", "color": "#a3a6af", "align": "right"},
          "encoding": {
            "x": {"datum": {"year": 2025, "month": 7, "date": 30, "hours": 0, "minutes": 13, "utc": true}, "type": "temporal"},
            "y": {"datum": 0.41115, "type": "quantitative"},
            "text": {"value": "C"}
          }
        },
        {
          "data": {"values": [{}]},
          "mark": {"type": "text", "color": "#2ebd85"},
          "encoding": {
            "x": {"datum": {"year": 2025, "month": 7, "date": 30, "hours": 0, "minutes": 13, "utc": true}, "type": "temporal"},
            "y": {"datum": 0.41115, "type": "quantitative"},
            "text": {"value": "0.2929100"}
          }
        },
        {
          "data": {"values": [{}]},
          "mark": {"type": "text", "color": "#2ebd85"},
          "encoding": {
            "x": {"datum": {"year": 2025, "month": 8, "date": 1, "hours": 19, "minutes": 25, "utc": true}, "type": "temporal"},
            "y": {"datum": 0.41115, "type": "quantitative"},
            "text": {"value": "+0.0075600 (+2.65%)"}
          }
        },
        {
          "data": {"values": [{}]},
          "mark": {"type": "point", "filled": true, "opacity": 1, "color": "#d1d4dc", "size": 1521,
            "shape": "M-1,-0.49H-0.16V0.49H-0.59V-0.08H-1Z M-0.12,-0.28A0.2,0.2 0 1,0 0.28,-0.28A0.2,0.2 0 1,0 -0.12,-0.28Z M0.42,-0.49H1L0.58,0.49H0.02Z"},
          "encoding": {
            "x": {"datum": {"year": 2025, "month": 7, "date": 10, "hours": 15, "minutes": 35, "utc": true}, "type": "temporal"},
            "y": {"datum": 0.12192, "type": "quantitative"}
          }
        },
        {
          "data": {"values": [{}]},
          "mark": {"type": "text", "color": "#d1d4dc", "fontSize": 25, "fontWeight": 600},
          "encoding": {
            "x": {"datum": {"year": 2025, "month": 7, "date": 11, "hours": 4, "minutes": 20, "utc": true}, "type": "temporal"},
            "y": {"datum": 0.12192, "type": "quantitative"},
            "text": {"value": "TradingView"}
          }
        },
        {
          "data": {"values": [{}]},
          "mark": {"type": "point", "filled": true, "opacity": 1, "color": "#e6e6e6", "size": 729,
            "shape": "M0,-1L0.35,-0.65L0,-0.3L-0.35,-0.65Z M0,1L0.35,0.65L0,0.3L-0.35,0.65Z M-1,0L-0.65,-0.35L-0.3,0L-0.65,0.35Z M1,0L0.65,-0.35L0.3,0L0.65,0.35Z M0,-0.2L0.2,0L0,0.2L-0.2,0Z"},
          "encoding": {
            "x": {"datum": {"year": 2025, "month": 8, "date": 30, "hours": 14, "minutes": 4, "utc": true}, "type": "temporal"},
            "y": {"datum": 0.11988, "type": "quantitative"}
          }
        },
        {
          "data": {"values": [{}]},
          "mark": {"type": "text", "color": "#e6e6e6", "fontSize": 24, "fontWeight": "bold", "align": "right"},
          "encoding": {
            "x": {"datum": {"year": 2025, "month": 9, "date": 1, "hours": 23, "minutes": 4, "utc": true}, "type": "temporal"},
            "y": {"datum": 0.11988, "type": "quantitative"},
            "text": {"value": "@fulldeg"}
          }
        }
      ]
    },
    {
      "layer": [
        {
          "data": {"name": "candles"},
          "mark": {"type": "bar", "width": 6.5},
          "encoding": {
            "x": {
              "field": "t", "type": "temporal",
              "scale": {"type": "utc", "nice": false, "domain": [
                {"year": 2025, "month": 7, "date": 10, "hours": 5, "minutes": 37, "seconds": 20, "utc": true},
                {"year": 2025, "month": 9, "date": 1, "hours": 17, "minutes": 30, "seconds": 44, "utc": true}
              ]}
            },
            "y": {
              "field": "v", "type": "quantitative",
              "scale": {"domain": [-265.1, 5651.2], "nice": false, "zero": false},
              "axis": {"orient": "right", "offset": -164, "title": null, "values": [400, 800], "labelExpr": "datum.value + 'M'", "domain": false, "labelPadding": 17, "labelOverlap": false}
            },
            "y2": {"datum": 0},
            "color": {"condition": {"test": "datum.c >= datum.o", "value": "#1a5e4a"}, "value": "#8a2e36"}
          }
        },
        {
          "data": {"values": [{}]},
          "mark": {"type": "text", "color": "#a3a6af"},
          "encoding": {
            "x": {"datum": {"year": 2025, "month": 7, "date": 10, "hours": 13, "minutes": 58, "utc": true}, "type": "temporal"},
            "y": {"datum": 693, "type": "quantitative"},
            "text": {"value": "Volume (SMA, 9)"}
          }
        },
        {
          "data": {"values": [{}]},
          "mark": {"type": "text", "color": "#22ab94"},
          "encoding": {
            "x": {"datum": {"year": 2025, "month": 7, "date": 14, "hours": 13, "minutes": 15, "utc": true}, "type": "temporal"},
            "y": {"datum": 693, "type": "quantitative"},
            "text": {"value": "39.672M"}
          }
        },
        {
          "data": {"values": [{}]},
          "mark": {"type": "rule", "color": "#22ab94", "strokeWidth": 34},
          "encoding": {
            "x": {"datum": {"year": 2025, "month": 8, "date": 29, "hours": 13, "minutes": 30, "utc": true}, "type": "temporal"},
            "x2": {"datum": {"year": 2025, "month": 9, "date": 1, "hours": 1, "minutes": 17, "utc": true}},
            "y": {"datum": 74.4, "type": "quantitative"}
          }
        },
        {
          "data": {"values": [{}]},
          "mark": {"type": "text", "color": "#ffffff"},
          "encoding": {
            "x": {"datum": {"year": 2025, "month": 8, "date": 29, "hours": 21, "minutes": 23, "utc": true}, "type": "temporal"},
            "y": {"datum": 74.4, "type": "quantitative"},
            "text": {"value": "39.672M"}
          }
        }
      ]
    }
  ],
  "resolve": {"scale": {"y": "independent"}, "axis": {"y": "independent"}}
}
